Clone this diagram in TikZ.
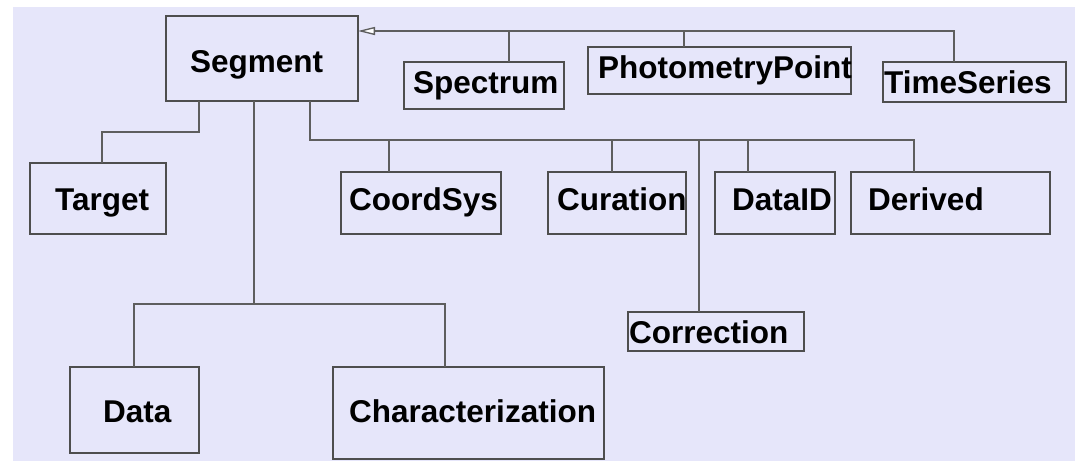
\documentclass[tikz,border=0pt]{standalone}
\usepackage{fontspec}
\setmainfont{Liberation Sans}
\usetikzlibrary{arrows.meta}
\definecolor{lav}{HTML}{E6E6FA}
\definecolor{edgec}{HTML}{4E4E4E}
\definecolor{wirec}{HTML}{5E5E5E}
\begin{document}
\begin{tikzpicture}[x=1pt,y=-1pt,
  box/.style={draw=edgec, line width=1.3pt, rectangle, inner sep=0pt, outer sep=0pt, anchor=north west},
  lbl/.style={font=\bfseries\fontsize{31.5}{36}\selectfont, inner sep=0pt, anchor=base west, text=black},
  wire/.style={draw=wirec, line width=1.3pt},
  gen/.style={wire, -{Triangle[length=17pt, width=8pt, fill=white]}}]
\useasboundingbox (0,0) rectangle (1075,461);
\fill[white] (0,0) rectangle (1075,461);
\fill[lav] (13,7) rectangle (1075,461);
% boxes
\node[box, minimum width=192pt, minimum height=85pt] (seg) at (166,16) {};
\node[box, minimum width=160pt, minimum height=47pt] (spec) at (404,62) {};
\node[box, minimum width=263pt, minimum height=47pt] (phot) at (588,47) {};
\node[box, minimum width=183pt, minimum height=40pt] (time) at (883,62) {};
\node[box, minimum width=136pt, minimum height=71pt] (tgt) at (30,163) {};
\node[box, minimum width=160pt, minimum height=62pt] (coord) at (341,172) {};
\node[box, minimum width=138pt, minimum height=62pt] (cur) at (548,172) {};
\node[box, minimum width=120pt, minimum height=62pt] (did) at (715,172) {};
\node[box, minimum width=199pt, minimum height=62pt] (der) at (851,172) {};
\node[box, minimum width=176pt, minimum height=39pt] (corr) at (628,312) {};
\node[box, minimum width=129pt, minimum height=86pt] (data) at (70,367) {};
\node[box, minimum width=271pt, minimum height=92pt] (char) at (333,367) {};
% labels
\node[lbl] (segL) at (190,72) {Segment};
\node[lbl] (specL) at (413,93) {Spectrum};
\node[lbl] (photL) at (598,78) {PhotometryPoint};
\node[lbl] (timeL) at (884,93) {TimeSeries};
\node[lbl] (tgtL) at (55,210) {Target};
\node[lbl] (coordL) at (349,210) {CoordSys};
\node[lbl] (curL) at (557,210) {Curation};
\node[lbl] (didL) at (732,210) {DataID};
\node[lbl] (derL) at (868,210) {Derived};
\node[lbl] (corrL) at (629,343) {Correction};
\node[lbl] (dataL) at (103,422) {Data};
\node[lbl] (charL) at (349,422) {Characterization};
% junctions
\coordinate (a1) at (199,132);
\coordinate (a2) at (102,132);
\coordinate (b1) at (254,304);
\coordinate (b2) at (134,304);
\coordinate (b3) at (445,304);
\coordinate (c0) at (310,140);
\coordinate (c1) at (389,140);
\coordinate (c2) at (612,140);
\coordinate (c3) at (699,140);
\coordinate (c4) at (748,140);
\coordinate (c5) at (914,140);
\coordinate (g1) at (509,31);
\coordinate (g2) at (684,31);
\coordinate (g3) at (954,31);
% connectors
\draw[wire] (seg.south -| a1) -- (a1) -- (a2) -- (tgt.north -| a2);
\draw[wire] (seg.south -| b1) -- (b1);
\draw[wire] (data.north -| b2) -- (b2) -- (b3) -- (char.north -| b3);
\draw[wire] (seg.south -| c0) -- (c0) -- (c5) -- (der.north -| c5);
\draw[wire] (c1) -- (coord.north -| c1);
\draw[wire] (c2) -- (cur.north -| c2);
\draw[wire] (c3) -- (corr.north -| c3);
\draw[wire] (c4) -- (did.north -| c4);
\draw[wire] (spec.north -| g1) -- (g1);
\draw[wire] (phot.north -| g2) -- (g2);
\draw[gen] (time.north -| g3) -- (g3) -- (seg.east |- g3);
\end{tikzpicture}
\end{document}
